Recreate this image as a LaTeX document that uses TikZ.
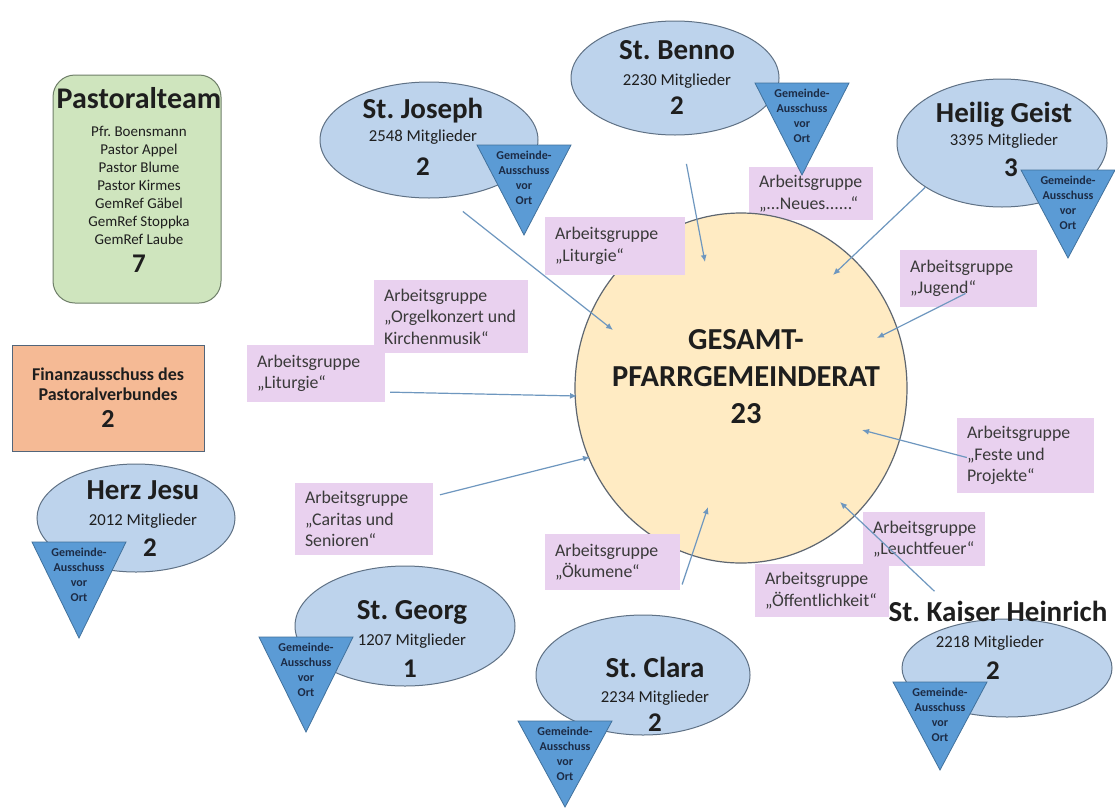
\documentclass[tikz,border=0pt]{standalone}
\usepackage{fontspec}
\setmainfont{Carlito}
\usetikzlibrary{positioning,shapes.geometric,arrows.meta}
\frenchspacing

\definecolor{pfarrblau}{HTML}{BDD3EC}
\definecolor{pfarrrand}{HTML}{5F7185}
\definecolor{gablau}{HTML}{5B9BD5}
\definecolor{garand}{HTML}{41719C}
\definecolor{gaschrift}{HTML}{1C2B45}
\definecolor{kreisgelb}{HTML}{FFEBC3}
\definecolor{kreisrand}{HTML}{5E6670}
\definecolor{rosa}{HTML}{E9D1EF}
\definecolor{teamgruen}{HTML}{CFE5BE}
\definecolor{teamrand}{HTML}{6F7F69}
\definecolor{finanzorange}{HTML}{F5BA95}
\definecolor{finanzrand}{HTML}{52657A}
\definecolor{pfeilblau}{HTML}{6E97BF}
\definecolor{schrift}{HTML}{1E1E1E}
\definecolor{grschrift}{HTML}{3A3A3A}

\tikzset{
  pfarrei/.style={ellipse, draw=pfarrrand, fill=pfarrblau, line width=1pt, inner sep=0pt},
  ptitel/.style={anchor=base, inner sep=0pt, text=schrift, font=\fontsize{29}{32}\selectfont\bfseries},
  pmit/.style={anchor=base, inner sep=0pt, text=schrift, font=\fontsize{16.7}{19}\selectfont},
  pzahl/.style={anchor=base, inner sep=0pt, text=schrift, font=\fontsize{27}{30}\selectfont\bfseries},
  gadreieck/.style={fill=gablau, draw=garand, line width=0.8pt},
  gatxt/.style={inner sep=0pt, align=center, text=gaschrift, font=\fontsize{12}{15}\selectfont\bfseries},
  gruppe/.style 2 args={fill=rosa, text=grschrift, align=flush left, inner xsep=10pt, inner ysep=0pt,
    text width=#1, minimum height=#2, font=\fontsize{17.8}{21.5}\selectfont},
  pfeil/.style={draw=pfeilblau, line width=1.2pt, -{Latex[length=7pt,width=6pt]}}
}

\begin{document}
\begin{tikzpicture}[x=1pt,y=-1pt]
    \fill[white] (0,0) rectangle (1115,809);
    \useasboundingbox (0,0) rectangle (1115,809);

    % Gesamtpfarrgemeinderat
    \node[gruppe={104}{53}] (neues) at (811,193.5) {Arbeitsgruppe\\„...Neues......“};
    \node[ellipse, draw=kreisrand, fill=kreisgelb, line width=1.2pt, minimum width=332, minimum height=350] (gpgr) at (741,388) {};
    \node[align=center, inner sep=0pt, text=schrift, font=\fontsize{30.5}{37}\selectfont\bfseries] (gpgr-t) at (746,377) {GESAMT-\\PFARRGEMEINDERAT\\23};

    % Arbeitsgruppen
    \node[gruppe={120}{58}] (litoben) at (615,246) {Arbeitsgruppe\\„Liturgie“};
    \node[gruppe={117}{57}] (jugend) at (968.5,278.5) {Arbeitsgruppe\\„Jugend“};
    \node[gruppe={134}{73}] (orgel) at (451,316.5) {Arbeitsgruppe\\„Orgelkonzert und\\Kirchenmusik“};
    \node[gruppe={118}{57}] (litlinks) at (316,373.5) {Arbeitsgruppe\\„Liturgie“};
    \node[gruppe={118}{72}] (caritas) at (364,519) {Arbeitsgruppe\\„Caritas und\\Senioren“};
    \node[gruppe={117}{75}] (feste) at (1025.5,455.5) {Arbeitsgruppe\\„Feste und\\Projekte“};
    \node[gruppe={102}{54}] (leucht) at (924,539) {Arbeitsgruppe\\„Leuchtfeuer“};
    \node[gruppe={114}{53}] (oeff) at (822,590.5) {Arbeitsgruppe\\„Öffentlichkeit“};
    \node[gruppe={115}{56}] (oekum) at (612.5,562) {Arbeitsgruppe\\„Ökumene“};

    % Pastoralteam und Finanzausschuss
    \node[draw=teamrand, fill=teamgruen, rounded corners=22pt, line width=1pt, minimum width=168, minimum height=228] (team) at (137,189) {};
    \node[anchor=north, align=center, inner sep=0pt, text=schrift, font=\fontsize{15}{18}\selectfont] (team-t) at (139,87)
      {{\fontsize{30}{32}\selectfont\bfseries Pastoralteam}\\[10pt]Pfr. Boensmann\\Pastor Appel\\Pastor Blume\\Pastor Kirmes\\GemRef Gäbel\\GemRef Stoppka\\GemRef Laube\\[10pt]{\fontsize{27}{30}\selectfont\bfseries 7}};
    \node[draw=finanzrand, fill=finanzorange, line width=1pt, minimum width=192, minimum height=106, align=center, text=schrift, font=\fontsize{18}{20}\selectfont\bfseries] (finanz) at (108,398)
      {Finanzausschuss des\\Pastoralverbundes\\[7pt]{\fontsize{26}{28}\selectfont 2}};

    % St. Joseph
    \node[pfarrei, minimum width=218, minimum height=116] (joseph) at (429,140) {};
    \node[ptitel] (joseph-n) at (423,118) {St. Joseph};
    \node[pmit] (joseph-m) at (423,141) {2548 Mitglieder};
    \node[pzahl] (joseph-z) at (423,175) {2};
    \draw[gadreieck] (477,145) -- ++(94,0) -- ++(-47,90) -- cycle;
    \node[gatxt] (joseph-ga) at (524,178) {Gemeinde-\\Ausschuss\\vor\\Ort};

    % St. Benno
    \node[pfarrei, minimum width=208, minimum height=114] (benno) at (675,78) {};
    \node[ptitel] (benno-n) at (677,59) {St. Benno};
    \node[pmit] (benno-m) at (677,85) {2230 Mitglieder};
    \node[pzahl] (benno-z) at (677,114) {2};
    \draw[gadreieck] (755,83) -- ++(94,0) -- ++(-47,92) -- cycle;
    \node[gatxt] (benno-ga) at (802,116) {Gemeinde-\\Ausschuss\\vor\\Ort};

    % Heilig Geist
    \node[pfarrei, minimum width=210, minimum height=128] (heilig) at (1002,143) {};
    \node[ptitel] (heilig-n) at (1004,122) {Heilig Geist};
    \node[pmit] (heilig-m) at (1004,145) {3395 Mitglieder};
    \node[pzahl] (heilig-z) at (1011,176) {3};
    \draw[gadreieck] (1021,170) -- ++(94,0) -- ++(-47,88) -- cycle;
    \node[gatxt] (heilig-ga) at (1068,203) {Gemeinde-\\Ausschuss\\vor\\Ort};

    % Herz Jesu
    \node[pfarrei, minimum width=198, minimum height=108] (herz) at (136,518) {};
    \node[ptitel] (herz-n) at (143,499) {Herz Jesu};
    \node[pmit] (herz-m) at (143,525) {2012 Mitglieder};
    \node[pzahl] (herz-z) at (150,556) {2};
    \draw[gadreieck] (32,542) -- ++(94,0) -- ++(-47,96) -- cycle;
    \node[gatxt] (herz-ga) at (79,575) {Gemeinde-\\Ausschuss\\vor\\Ort};

    % St. Georg
    \node[pfarrei, minimum width=220, minimum height=120] (georg) at (405,626) {};
    \node[ptitel] (georg-n) at (412,619) {St. Georg};
    \node[pmit] (georg-m) at (412,645) {1207 Mitglieder};
    \node[pzahl] (georg-z) at (410,677) {1};
    \draw[gadreieck] (259,637) -- ++(94,0) -- ++(-47,95) -- cycle;
    \node[gatxt] (georg-ga) at (306,670) {Gemeinde-\\Ausschuss\\vor\\Ort};

    % St. Clara
    \node[pfarrei, minimum width=214, minimum height=120] (clara) at (643,675) {};
    \node[ptitel] (clara-n) at (655,677) {St. Clara};
    \node[pmit] (clara-m) at (655,702) {2234 Mitglieder};
    \node[pzahl] (clara-z) at (655,731) {2};
    \draw[gadreieck] (518,721) -- ++(94,0) -- ++(-47,86) -- cycle;
    \node[gatxt] (clara-ga) at (565,754) {Gemeinde-\\Ausschuss\\vor\\Ort};

    % St. Kaiser Heinrich
    \node[pfarrei, minimum width=210, minimum height=98] (kaiser) at (1007,668) {};
    \node[ptitel] (kaiser-n) at (998,621) {St. Kaiser Heinrich};
    \node[pmit] (kaiser-m) at (990,647) {2218 Mitglieder};
    \node[pzahl] (kaiser-z) at (993,679) {2};
    \draw[gadreieck] (893,682) -- ++(94,0) -- ++(-47,88) -- cycle;
    \node[gatxt] (kaiser-ga) at (940,715) {Gemeinde-\\Ausschuss\\vor\\Ort};

    % Pfeile
    \coordinate (tip-joseph) at (613,330);
    \coordinate (tip-benno) at (705,262);
    \coordinate (tip-heilig) at (833,275);
    \coordinate (tip-jugend) at (877,338);
    \coordinate (tip-litlinks) at (577,396);
    \coordinate (tip-caritas) at (590,457);
    \coordinate (tip-feste) at (862,430);
    \coordinate (tip-oekum) at (708,507);
    \coordinate (tip-kaiser) at (840,502);
    \draw[pfeil, shorten <=22pt] (joseph.-74) -- (tip-joseph);
    \draw[pfeil, shorten <=29pt] (benno.-84) -- (tip-benno);
    \draw[pfeil] (heilig.-150) -- (tip-heilig);
    \draw[pfeil] ([shift={(-3,15)}]jugend.center) -- (tip-jugend);
    \draw[pfeil, shorten <=5pt] (litlinks.-15) -- (tip-litlinks);
    \draw[pfeil, shorten <=7pt] (caritas.18) -- (tip-caritas);
    \draw[pfeil] ([shift={(10,2)}]feste.west) -- (tip-feste);
    \draw[pfeil, shorten <=6pt] (oekum.south east) -- (tip-oekum);
    \draw[pfeil, shorten <=45pt] (kaiser.131) -- (tip-kaiser);
\end{tikzpicture}
\end{document}
